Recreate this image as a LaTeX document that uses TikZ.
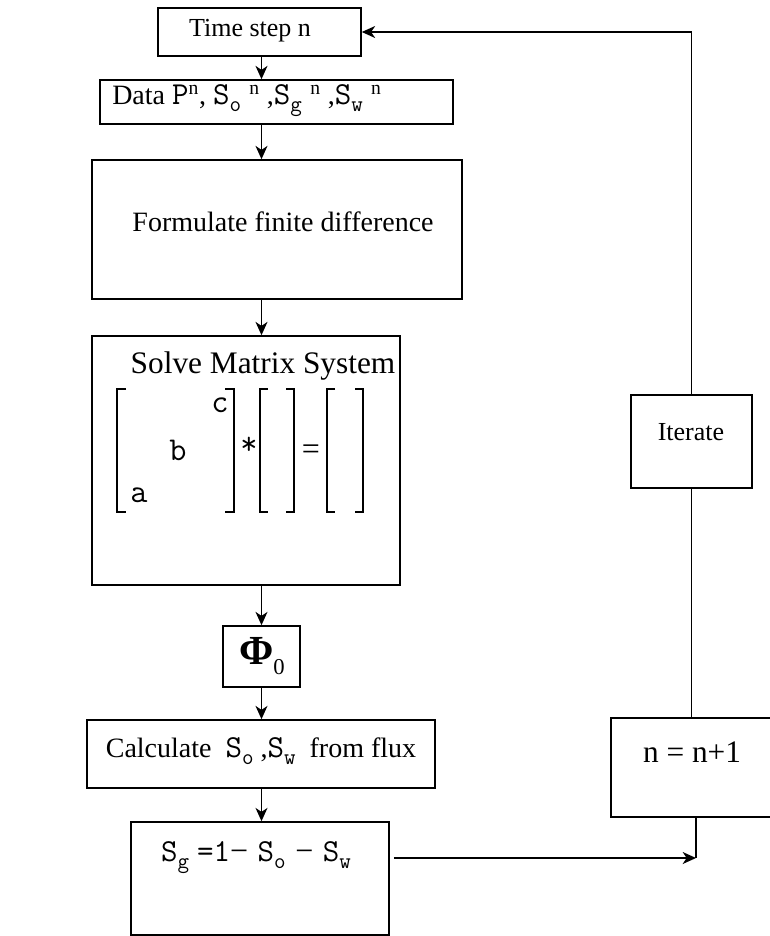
\documentclass[tikz,border=0pt]{standalone}
\usepackage{fontspec}
\setmainfont{Liberation Serif}
\usetikzlibrary{arrows.meta}
\newcommand\sub[1]{\raisebox{-0.22em}{\scalebox{0.7}{#1}}}
\newcommand\Ssub[1]{{\fontsize{24}{26}\ttfamily S\sub{#1}}}
\newcommand\Ssubsup[2]{\Ssub{#1}\hspace{0.3em}\textsuperscript{#2}}

\begin{document}
\begin{tikzpicture}[x=0.75pt,y=-0.75pt,
    box/.style={draw,line width=1.2pt,inner sep=0pt},
    txt/.style={inner sep=0pt,font=\fontsize{19.5}{23}\selectfont},
    bigtxt/.style={inner sep=0pt,font=\fontsize{21}{25}\selectfont},
    mono/.style={inner sep=0pt,font=\fontsize{25}{28}\ttfamily},
    flow/.style={line width=1.1pt,-{Stealth[length=10pt,width=9pt,inset=3pt]}},
    link/.style={line width=1.1pt}]
  \clip (0,0) rectangle (770,936);
  % main column
  \node[box,minimum width=152.25pt,minimum height=36pt]    (tstep) at (259.5, 32  ) {};
  \node[box,minimum width=264.75pt,minimum height=33pt]    (data)  at (276.5,102  ) {};
  \node[box,minimum width=277.5pt, minimum height=104.25pt](form)  at (277  ,229.5) {};
  \node[box,minimum width=231pt,   minimum height=186.75pt](solve) at (246  ,460.5) {};
  \node[box,minimum width=57.75pt, minimum height=45.75pt] (phi)   at (261.5,656.5) {};
  \node[box,minimum width=261pt,   minimum height=51pt]    (calc)  at (261  ,754  ) {};
  \node[box,minimum width=193.5pt, minimum height=84.75pt] (sg)    at (260  ,878.5) {};
  % loop back
  \node[box,minimum width=90.75pt, minimum height=69.75pt] (iter)  at (691.5,441.5) {};
  \node[box,minimum width=127.5pt, minimum height=74.25pt] (nbox)  at (696  ,767.5) {};
  \coordinate (join) at (696,858);

  % texts
  \node[txt] (tsteptxt) at (250,31) {Time step n};
  \node[bigtxt,anchor=west] (datatxt) at (112,101)
    {Data {\fontsize{24}{26}\ttfamily P}\textsuperscript{n}, \Ssubsup{o}{n} ,\Ssubsup{g}{n} ,\Ssubsup{w}{n}};
  \node[bigtxt] (formtxt) at (283,222) {Formulate finite difference};
  \node[bigtxt,font=\fontsize{23.5}{27}\selectfont] (solvetxt) at (263,366) {Solve Matrix System};
  \node[mono] (ma) at (139,495) {a};
  \node[mono] (mb) at (178,450) {b};
  \node[mono] (mc) at (220,405) {c};
  \node[mono] (mstar) at (249,446) {*};
  \node[bigtxt,font=\fontsize{24}{27}\selectfont] (meq) at (311,452) {=};
  \node[inner sep=0pt] (phitxt) at (262,656)
    {\fontsize{31}{33}\selectfont\bfseries Φ\raisebox{-0.25em}{\fontsize{17}{18}\mdseries 0}};
  \node[txt,font=\fontsize{21}{24}\selectfont] (calctxt) at (261,751)
    {Calculate \ \Ssub{o} ,\Ssub{w} \ from flux};
  \node[mono,font=\fontsize{24}{26}\ttfamily] (sgtxt) at (256,858)
    {S\sub{g}\hspace{0.25em}=1{\rmfamily−}\hspace{0.3em}S\sub{o}\hspace{0.3em}{\rmfamily−}\hspace{0.3em}S\sub{w}};
  \node[txt] (itertxt) at (691,432) {Iterate};
  \node[bigtxt,font=\fontsize{23.5}{27}\selectfont] (ntxt) at (692,752) {n = n+1};

  % brackets
  \draw[link] (126,389) -- (117,389) -- (117,512) -- (126,512);
  \draw[link] (225,389) -- (234,389) -- (234,512) -- (225,512);
  \draw[link] (268,389) -- (260,389) -- (260,512) -- (268,512);
  \draw[link] (286,389) -- (294,389) -- (294,512) -- (286,512);
  \draw[link] (335,389) -- (327,389) -- (327,512) -- (335,512);
  \draw[link] (355,389) -- (363,389) -- (363,512) -- (355,512);

  % connectors
  \draw[flow] (phi.north |- tstep.south) -- (phi.north |- data.north);
  \draw[flow] (phi.north |- data.south) -- (phi.north |- form.north);
  \draw[flow] (phi.north |- form.south) -- (phi.north |- solve.north);
  \draw[flow] (phi.north |- solve.south) -- (phi.north);
  \draw[flow] (phi.south) -- (phi.south |- calc.north);
  \draw[flow] (phi.south |- calc.south) -- (phi.south |- sg.north);
  \draw[flow] (sg.east |- join) ++(4,0) -- (join);
  \draw[link] (nbox.south -| join) -- (join);
  \draw[link] (iter.south) -- (iter.south |- nbox.north);
  \draw[flow] (iter.north) |- (tstep.east);
\end{tikzpicture}
\end{document}
